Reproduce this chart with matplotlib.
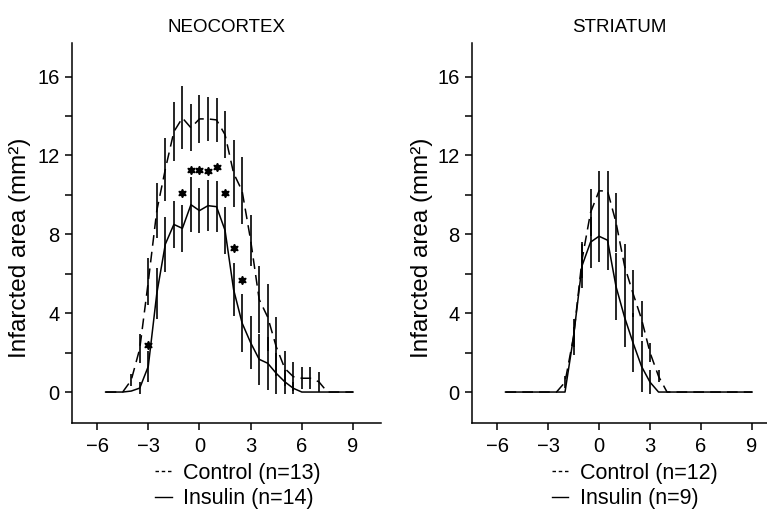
import matplotlib
matplotlib.use("Agg")
import matplotlib.pyplot as plt
from matplotlib.lines import Line2D

plt.rcParams['font.family'] = ['Liberation Sans', 'DejaVu Sans']

# distance from bregma (mm), 0.5 mm steps
x_neo = [-5.5, -5.0, -4.5, -4.0, -3.5, -3.0, -2.5, -2.0, -1.5, -1.0, -0.5, 0.0,
         0.5, 1.0, 1.5, 2.0, 2.5, 3.0, 3.5, 4.0, 4.5, 5.0, 5.5, 6.0, 6.5,
         7.0, 7.5, 8.0, 8.5, 9.0]
neo_control = [0, 0, 0, 0.6, 2.2, 5.6, 9.2, 11.3, 13.2, 13.9, 13.4, 13.85,
               13.85, 13.8, 13.05, 11.1, 10.2, 7.7, 4.7, 3.8, 2.3, 1.2, 0.78,
               0.7, 0.7, 0.52, 0, 0, 0, 0]
neo_control_sem = [0, 0, 0, 0.3, 0.75, 1.2, 1.4, 1.6, 1.5, 1.6, 1.2, 1.2,
                   1.1, 1.1, 1.2, 1.7, 1.7, 1.3, 1.7, 1.7, 1.5, 0.9, 0.75,
                   0.55, 0.55, 0.5, 0, 0, 0, 0]
neo_insulin = [0, 0, 0, 0.05, 0.2, 1.3, 5.0, 7.5, 8.5, 8.3, 9.5, 9.2,
               9.45, 9.4, 8.2, 5.2, 3.5, 2.5, 1.66, 1.46, 0.95, 0.52, 0.19,
               0, 0, 0, 0, 0, 0, 0]
neo_insulin_sem = [0, 0, 0, 0, 0.3, 0.8, 1.3, 1.4, 1.2, 1.2, 1.4, 1.15,
                   1.3, 1.3, 1.2, 1.35, 1.45, 1.35, 1.3, 1.35, 1.05, 0.6, 0.3,
                   0, 0, 0, 0, 0, 0, 0]
# significance marks
star_x = [-3.0, -1.0, -0.5, 0.0, 0.5, 1.0, 1.5, 2.0, 2.5]
star_y = [2.4, 10.1, 11.25, 11.25, 11.2, 11.4, 10.1, 7.3, 5.7]

x_str = [-5.5, -5.0, -4.5, -4.0, -3.5, -3.0, -2.5, -2.0, -1.5, -1.0, -0.5, 0.0,
         0.5, 1.0, 1.5, 2.0, 2.5, 3.0, 3.5, 4.0, 4.5, 5.0, 5.5, 6.0, 6.5,
         7.0, 7.5, 8.0, 8.5, 9.0]
str_control = [0, 0, 0, 0, 0, 0, 0, 0.5, 2.8, 6.7, 9.1, 10.2,
               10.2, 8.6, 6.4, 5.0, 3.7, 2.0, 0.8, 0, 0, 0, 0, 0, 0,
               0, 0, 0, 0, 0]
str_control_sem = [0, 0, 0, 0, 0, 0, 0, 0.3, 0.5, 0.9, 1.2, 1.0,
                   1.0, 1.5, 1.1, 1.2, 0.9, 0.5, 0.3, 0, 0, 0, 0, 0, 0,
                   0, 0, 0, 0, 0]
str_insulin = [0, 0, 0, 0, 0, 0, 0, 0, 2.8, 6.4, 7.6, 7.9,
               7.7, 5.35, 3.8, 2.5, 1.3, 0.5, 0, 0, 0, 0, 0, 0, 0,
               0, 0, 0, 0, 0]
str_insulin_sem = [0, 0, 0, 0, 0, 0, 0, 0, 0.9, 1.1, 1.3, 1.3,
                   1.5, 1.7, 1.5, 1.5, 1.3, 0.6, 0, 0, 0, 0, 0, 0, 0,
                   0, 0, 0, 0, 0]

dash = (0, (7, 4))


def draw_panel(ax, x, ctrl, ctrl_sem, ins, ins_sem, title, labels, xmax):
    ax.errorbar(x, ctrl, yerr=ctrl_sem, color='black', lw=1.1, ls=dash,
                elinewidth=1.2, capsize=0)
    ax.errorbar(x, ins, yerr=ins_sem, color='black', lw=1.1, ls='-',
                elinewidth=1.2, capsize=0)
    ax.set_xlim(-7.47, xmax)
    ax.set_ylim(-1.57, 17.7)
    ax.set_xticks([-6, -3, 0, 3, 6, 9])
    ax.set_yticks([0, 2, 4, 6, 8, 10, 12, 14, 16])
    ax.set_yticklabels(['0', '', '4', '', '8', '', '12', '', '16'])
    ax.tick_params(labelsize=14.5, length=5, width=1.1, direction='out', pad=4)
    ax.tick_params(axis='x', pad=5)
    for s in ['top', 'right']:
        ax.spines[s].set_visible(False)
    for s in ['left', 'bottom']:
        ax.spines[s].set_linewidth(1.1)
    ax.set_title(title, fontsize=13.5, pad=8)
    ax.set_ylabel('Infarcted area (mm²)', fontsize=17.5, va='center')
    ax.yaxis.set_label_coords(-0.168, 0.46)
    handles = [Line2D([], [], color='black', lw=1.0, ls=(0, (2.5, 2))),
               Line2D([], [], color='black', lw=1.0, ls='-')]
    ax.legend(handles, labels, loc='upper left', bbox_to_anchor=(0.27, -0.105),
              frameon=False, fontsize=15.5, handlelength=0.75,
              handletextpad=0.55, labelspacing=0.2, borderpad=0,
              borderaxespad=0)


fig = plt.figure(figsize=(7.67, 5.18), dpi=100)
ax1 = fig.add_axes([0.0939, 0.1834, 0.4028, 0.7336])
ax2 = fig.add_axes([0.6154, 0.1834, 0.3846, 0.7336])

draw_panel(ax1, x_neo, neo_control, neo_control_sem, neo_insulin, neo_insulin_sem,
           'NEOCORTEX', ['Control (n=13)', 'Insulin (n=14)'], 10.64)
ax1.plot(star_x, star_y, ls='none', marker=(6, 1, 0), ms=6, color='black')

draw_panel(ax2, x_str, str_control, str_control_sem, str_insulin, str_insulin_sem,
           'STRIATUM', ['Control (n=12)', 'Insulin (n=9)'], 9.88)

fig.savefig('out.png', dpi=100)
